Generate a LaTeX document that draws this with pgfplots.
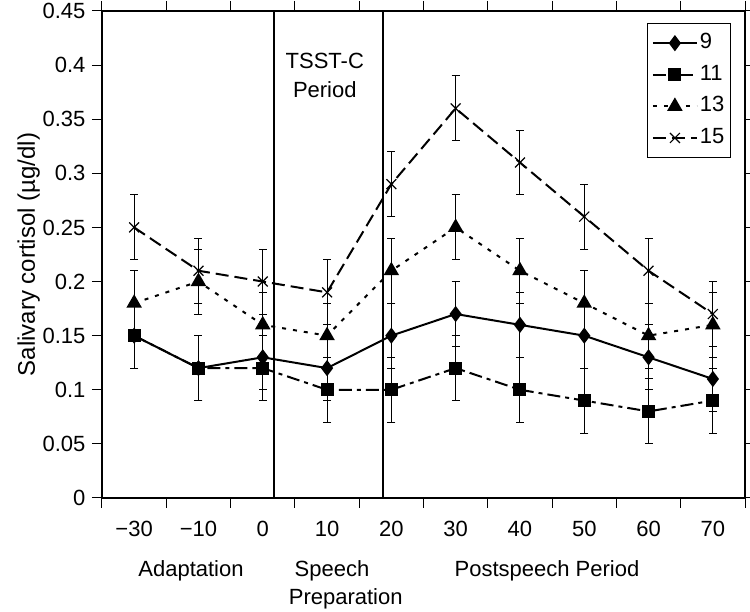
\documentclass[border=0pt]{standalone}
\usepackage{fontspec}
\setmainfont{Liberation Sans}
\usepackage{pgfplots}
\pgfplotsset{compat=1.18}
\pgfplotsset{
  errs/.style={
    error bars/y dir=both,
    error bars/y explicit,
    error bars/error bar style={line width=1pt, solid},
    error bars/error mark options={line width=1pt, mark size=4pt, solid, rotate=90},
  },
  every axis legend/.append style={at={(0.978,0.975)}, anchor=north east,
    draw=black, line width=1pt, inner xsep=4pt, inner ysep=6pt, row sep=4.6pt,
    font=\fontsize{22}{26}\selectfont,
    nodes={inner sep=2pt, text height=17pt, text depth=6pt}},
}
\newcommand{\legtxt}[1]{\fontsize{22}{26}\selectfont #1}
\begin{document}
\begin{tikzpicture}
\begin{axis}[
  name=ax,
  scale only axis,
  width=643pt, height=487pt,
  xmin=-0.5, xmax=9.5,
  ymin=0, ymax=0.45,
  clip=false,
  font=\fontsize{22}{26}\selectfont,
  /pgf/number format/assume math mode=true,
  xtick={-0.5,0.5,1.5,2.5,3.5,4.5,5.5,6.5,7.5,8.5,9.5},
  x tick label as interval,
  xticklabels={−30,−10,0,10,20,30,40,50,60,70},
  ytick={0,0.05,0.1,0.15,0.2,0.25,0.3,0.35,0.4,0.45},
  yticklabels={0,0.05,0.1,0.15,0.2,0.25,0.3,0.35,0.4,0.45},
  tick align=outside,
  major tick length=10pt,
  tick style={black, line width=1pt},
  axis line style={black, line width=1.3pt},
  x tick label style={yshift=-10pt},
  y tick label style={xshift=-3pt},
  ylabel={Salivary cortisol (µg/dl)},
  ylabel style={font=\fontsize{24}{28}\selectfont, yshift=-4pt},
  legend cell align=left,
  legend image code/.code={\draw[mark repeat=2,mark phase=2,#1] plot coordinates {(0pt,0pt) (22pt,0pt) (44pt,0pt)};},
  every axis plot/.append style={black, line width=2pt},
]
\addplot[errs, mark=diamond*, mark size=6.5pt, mark options={solid}]
  coordinates {(0,0.15) +- (0,0.03) (1,0.12) +- (0,0.03) (2,0.13) +- (0,0.03) (3,0.12) +- (0,0.03) (4,0.15) +- (0,0.03)
               (5,0.17) +- (0,0.03) (6,0.16) +- (0,0.03) (7,0.15) +- (0,0.03) (8,0.13) +- (0,0.03) (9,0.11) +- (0,0.03)};
\addlegendentry{\legtxt{9}}
\addplot[errs, mark=square*, mark size=5.5pt, mark options={solid}, dash pattern=on 13pt off 5pt on 4pt off 5pt]
  coordinates {(0,0.15) +- (0,0.03) (1,0.12) +- (0,0.03) (2,0.12) +- (0,0.03) (3,0.10) +- (0,0.03) (4,0.10) +- (0,0.03)
               (5,0.12) +- (0,0.03) (6,0.10) +- (0,0.03) (7,0.09) +- (0,0.03) (8,0.08) +- (0,0.03) (9,0.09) +- (0,0.03)};
\addlegendentry{\legtxt{11}}
\addplot[errs, mark=triangle*, mark size=7pt, mark options={solid}, dash pattern=on 4pt off 7pt]
  coordinates {(0,0.18) +- (0,0.03) (1,0.20) +- (0,0.03) (2,0.16) +- (0,0.03) (3,0.15) +- (0,0.03) (4,0.21) +- (0,0.03)
               (5,0.25) +- (0,0.03) (6,0.21) +- (0,0.03) (7,0.18) +- (0,0.03) (8,0.15) +- (0,0.03) (9,0.16) +- (0,0.03)};
\addlegendentry{\legtxt{13}}
\addplot[errs, mark=x, mark size=7pt, mark options={solid, line width=1.2pt}, dash pattern=on 13pt off 6pt]
  coordinates {(0,0.25) +- (0,0.03) (1,0.21) +- (0,0.03) (2,0.20) +- (0,0.03) (3,0.19) +- (0,0.03) (4,0.29) +- (0,0.03)
               (5,0.36) +- (0,0.03) (6,0.31) +- (0,0.03) (7,0.26) +- (0,0.03) (8,0.21) +- (0,0.03) (9,0.17) +- (0,0.03)};
\addlegendentry{\legtxt{15}}
\addplot[black, line width=1.2pt, no marks, forget plot] coordinates {(2.175,0) (2.175,0.45)};
\addplot[black, line width=1.2pt, no marks, forget plot] coordinates {(3.87,0) (3.87,0.45)};
\node[align=center, font=\fontsize{22}{29}\selectfont] at (axis cs:2.965,0.3905) {TSST-C\\Period};
\node[anchor=base] at (axis cs:0.884,-0.0726) {Adaptation};
\node[anchor=base] at (axis cs:3.077,-0.0726) {Speech};
\node[anchor=base] at (axis cs:3.29,-0.0984) {Preparation};
\node[anchor=base] at (axis cs:6.42,-0.0726) {Postspeech Period};
\end{axis}
\pgfresetboundingbox
\useasboundingbox ([shift={(-102pt,-114pt)}]ax.south west) rectangle ([shift={(5pt,11pt)}]ax.north east);
\end{tikzpicture}
\end{document}
